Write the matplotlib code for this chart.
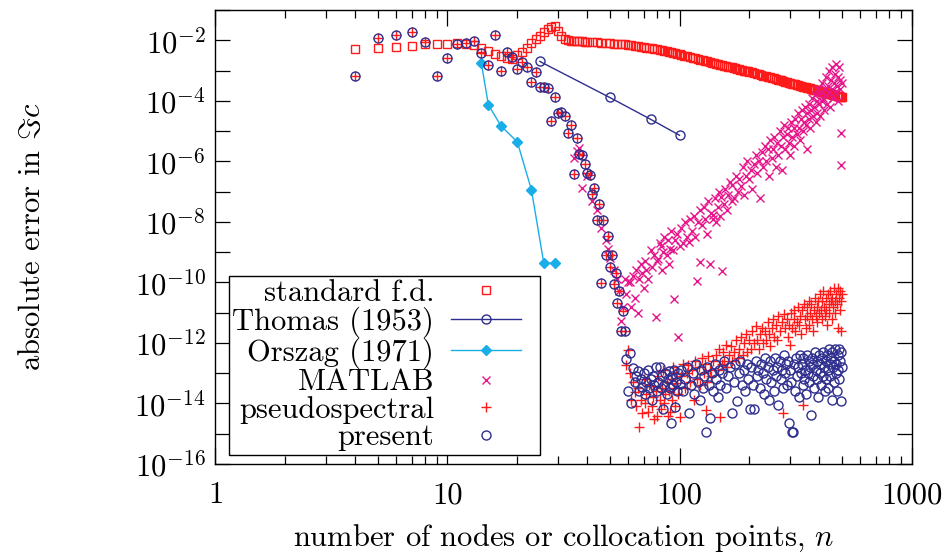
# -*- coding: utf-8 -*-
'''
absolute error in Im(c) against number of nodes / collocation points
'''

import numpy as np
import matplotlib
matplotlib.use('Agg')
import matplotlib.pyplot as plt
from matplotlib.lines import Line2D
from matplotlib.legend_handler import HandlerLine2D

# ----------- data (log10 of absolute error) -----------
fd_n = list(range(4, 41)) + list(range(42, 101, 2)) + list(range(102, 200, 3)) + list(range(200, 501, 5))
fd_log10 = [
    -2.28, -2.26, -2.21, -2.18, -2.14, -2.12, -2.11, -2.10, -2.12, -2.16,
    -2.26, -2.36, -2.44, -2.53, -2.58, -2.62, -2.50, -2.39, -2.24, -2.10,
    -1.97, -1.85, -1.74, -1.64, -1.57, -1.53, -1.69, -1.87, -1.95, -1.99,
    -2.01, -2.02, -2.03, -2.03, -2.04, -2.05, -2.05,
    # 42 .. 100 step 2
    -2.06, -2.07, -2.08, -2.09, -2.10, -2.11, -2.12, -2.13, -2.14, -2.16,
    -2.17, -2.18, -2.19, -2.21, -2.22, -2.24, -2.25, -2.27, -2.28, -2.30,
    -2.31, -2.33, -2.34, -2.36, -2.38, -2.39, -2.41, -2.43, -2.45, -2.47,
    # 102 .. 198 step 3
    -2.49, -2.51, -2.53, -2.56, -2.58, -2.60, -2.62, -2.64, -2.66, -2.68,
    -2.70, -2.72, -2.74, -2.75, -2.77, -2.79, -2.81, -2.82, -2.84, -2.85,
    -2.87, -2.88, -2.90, -2.91, -2.93, -2.94, -2.96, -2.97, -2.98, -3.00,
    -3.01, -3.02, -3.03,
    # 200 .. 500 step 5
    -3.04, -3.06, -3.09, -3.11, -3.13, -3.15, -3.17, -3.19, -3.21, -3.23,
    -3.24, -3.26, -3.28, -3.30, -3.32, -3.33, -3.35, -3.37, -3.38, -3.40,
    -3.41, -3.43, -3.44, -3.46, -3.47, -3.49, -3.50, -3.51, -3.53, -3.54,
    -3.55, -3.57, -3.58, -3.59, -3.60, -3.62, -3.63, -3.64, -3.65, -3.66,
    -3.68, -3.69, -3.70, -3.71, -3.72, -3.73, -3.74, -3.75, -3.76, -3.77,
    -3.78, -3.79, -3.80, -3.81, -3.82, -3.83, -3.84, -3.85, -3.86, -3.87,
    -3.88,
]

thomas_n = [25, 50, 75, 100]
thomas_log10 = [-2.70, -3.89, -4.61, -5.14]

orszag_n = [14, 15, 17, 20, 23, 26, 29]
orszag_log10 = [-2.76, -4.13, -4.83, -5.36, -6.94, -9.36, -9.36]

# present and pseudospectral coincide up to n = 58
low_n = list(range(4, 59))
low_log10 = [
    -3.17, -1.92, -1.84, -1.72, -2.06, -3.17, -2.59, -2.11, -2.08, -2.02,
    -2.42, -2.81, -1.84, -3.03, -2.39, -2.56, -2.94, -2.72, -2.89, -3.39,
    -3.06, -3.53, -3.53, -3.58, -4.67, -3.89, -4.39, -4.36, -4.50, -5.08,
    -4.81, -6.41, -5.24, -5.76, -5.80, -6.08, -6.39, -6.44, -7.09, -6.89,
    -7.94, -7.41, -10.02, -7.94, -9.11, -8.48, -9.50, -9.09, -10.06, -9.69,
    -10.69, -10.30, -11.61, -10.94, -11.61,
]

matlab_n = [
    35, 36, 37, 38, 40, 42, 44, 46, 48, 49, 50, 52, 54, 55, 56, 57, 58, 59, 60, 61,
    62, 63, 64, 65, 66, 67, 68, 69, 70, 71, 72, 73, 75, 76, 78, 79, 80, 81, 82, 83,
    84, 85, 86, 88, 89, 90, 91, 92, 94, 95, 96, 98, 99, 100, 102, 104, 106, 108, 110, 111,
    113, 115, 117, 119, 120, 122, 123, 125, 127, 129, 131, 133, 135, 137, 139, 140, 142, 144, 146, 148,
    150, 151, 153, 155, 157, 160, 162, 165, 168, 169, 172, 175, 178, 181, 184, 187, 190, 193, 196, 200,
    203, 206, 210, 213, 216, 220, 223, 226, 230, 233, 236, 240, 243, 246, 250, 253, 256, 260, 263, 266,
    270, 273, 276, 280, 283, 286, 290, 293, 296, 300, 303, 306, 310, 313, 316, 320, 323, 326, 330, 333,
    336, 340, 343, 346, 350, 353, 356, 360, 363, 366, 370, 373, 376, 380, 383, 386, 390, 393, 396, 400,
    403, 406, 410, 413, 416, 420, 423, 426, 430, 433, 436, 440, 443, 446, 450, 453, 456, 460, 463, 466,
    470, 473, 476, 480, 483, 486, 490, 493, 496, 498, 500,
]
matlab_log10 = [
    -5.90, -5.67, -5.56, -6.89, -6.50, -7.30, -7.60, -8.22, -8.60, -8.89, -9.20, -9.60, -9.90, -10.30, -11.27, -10.83, -9.89, -10.40, -10.00, -10.00,
    -10.83, -9.80, -10.50, -9.60, -11.00, -9.90, -9.40, -9.70, -10.20, -9.30, -9.60, -9.90, -8.94, -9.50, -9.10, -11.13, -9.30, -9.22, -8.70, -8.80,
    -9.60, -9.00, -8.50, -9.10, -8.60, -9.40, -8.90, -8.30, -8.94, -10.56, -8.60, -8.39, -11.81, -8.80, -8.20, -8.70, -8.00, -8.50, -8.67, -7.90,
    -8.30, -7.80, -8.50, -9.94, -8.00, -7.60, -9.33, -8.10, -7.50, -7.90, -8.40, -7.30, -9.39, -7.70, -7.90, -7.78, -7.20, -8.00, -7.50, -7.00,
    -7.80, -7.17, -9.64, -7.40, -6.90, -7.60, -7.10, -6.70, -7.30, -6.78, -7.22, -6.50, -7.00, -6.60, -6.80, -6.20, -7.10, -6.50, -6.00, -6.60,
    -6.30, -6.90, -6.10, -5.80, -6.40, -6.00, -7.20, -5.70, -6.20, -5.50, -6.00, -5.60, -6.50, -5.30, -5.90, -5.60, -5.20, -6.20, -5.40, -5.80,
    -5.00, -5.50, -6.30, -5.20, -4.80, -5.60, -5.10, -4.90, -5.40, -5.80, -4.70, -5.20, -4.90, -5.50, -4.60, -5.10, -4.40, -4.90, -5.30, -4.60,
    -4.30, -5.00, -4.70, -4.20, -4.80, -5.60, -4.40, -4.10, -4.60, -4.90, -4.30, -3.90, -4.50, -4.20, -3.80, -4.70, -4.00, -4.40, -3.60, -4.10,
    -4.50, -3.70, -4.00, -3.40, -3.90, -4.30, -3.60, -3.20, -3.80, -4.10, -3.50, -3.00, -3.70, -4.20, -3.30, -3.60, -2.90, -3.90, -3.40, -3.10,
    -3.70, -2.80, -3.50, -4.00, -3.20, -2.90, -3.60, -3.30, -5.06, -6.11, -3.40,
]

pseudo_n = low_n + [
    59, 60, 61, 62, 63, 64, 65, 66, 67, 68, 69, 70, 71, 72, 73, 74, 75, 76, 77, 78,
    79, 80, 81, 82, 83, 84, 85, 86, 87, 88, 89, 90, 91, 92, 93, 94, 95, 96, 97, 98,
    99, 100, 102, 104, 106, 108, 109, 111, 113, 115, 117, 119, 121, 123, 125, 127, 129, 130, 131, 133,
    135, 137, 140, 144, 146, 148, 150, 152, 154, 156, 158, 160, 163, 166, 169, 172, 175, 178, 181, 184,
    187, 190, 193, 196, 200, 203, 206, 210, 213, 216, 220, 223, 226, 230, 233, 236, 240, 243, 246, 250,
    253, 256, 260, 263, 266, 270, 276, 280, 283, 286, 290, 293, 296, 300, 303, 306, 310, 313, 316, 320,
    323, 326, 330, 333, 336, 340, 343, 346, 350, 353, 356, 360, 363, 366, 370, 373, 376, 380, 383, 386,
    390, 393, 396, 400, 403, 406, 410, 413, 416, 420, 423, 426, 430, 433, 436, 440, 443, 446, 450, 453,
    456, 460, 463, 466, 470, 473, 476, 480, 483, 486, 490, 493, 496, 498, 500,
]
pseudo_log10 = low_log10 + [
    -12.72, -12.22, -13.00, -13.90, -13.30, -13.61, -14.10, -13.50, -14.78, -13.89, -14.30, -13.20, -14.00, -13.70, -14.28, -13.40, -13.44, -14.10, -13.80, -14.50,
    -13.60, -14.43, -13.10, -13.89, -14.20, -13.50, -12.90, -14.00, -13.70, -13.30, -14.40, -13.60, -14.28, -13.20, -13.90, -12.80, -13.50, -14.10, -13.00, -13.33,
    -13.70, -14.44, -13.10, -12.70, -13.50, -13.00, -12.72, -13.30, -12.90, -13.89, -12.60, -13.20, -12.80, -13.40, -12.50, -13.00, -12.70, -14.22, -13.30, -12.44,
    -12.90, -13.10, -12.60, -12.40, -12.90, -12.20, -14.44, -12.70, -12.30, -12.60, -12.06, -12.80, -12.40, -12.10, -12.60, -12.30, -11.90, -12.50, -12.20, -11.80,
    -12.40, -12.00, -11.70, -12.30, -11.90, -12.20, -11.60, -12.00, -11.44, -11.90, -12.20, -11.70, -11.50, -12.00, -11.60, -11.90, -11.30, -11.70, -12.10, -11.50,
    -11.20, -11.80, -11.40, -11.90, -11.10, -11.60, -11.30, -14.33, -11.06, -11.50, -11.20, -11.80, -11.40, -12.06, -11.00, -11.50, -11.20, -10.90, -11.60, -11.30,
    -10.80, -11.40, -11.10, -11.70, -10.90, -14.06, -10.70, -11.20, -11.50, -10.80, -11.10, -10.60, -11.40, -11.00, -10.70, -11.20, -11.60, -10.90, -10.50, -11.10,
    -10.80, -11.30, -10.60, -11.00, -10.40, -10.90, -11.20, -10.60, -10.30, -10.80, -11.10, -10.50, -10.90, -11.40, -10.40, -10.70, -11.00, -10.30, -10.60, -11.20,
    -10.50, -10.80, -10.20, -10.60, -11.00, -10.40, -10.70, -11.50, -10.20, -10.50, -10.90, -10.30, -11.60, -10.60, -10.40,
]

present_n = low_n + [
    59, 60, 61, 62, 63, 64, 65, 66, 67, 68, 69, 70, 71, 72, 73, 74, 75, 76, 77, 78,
    79, 80, 81, 82, 83, 84, 85, 86, 87, 88, 89, 90, 91, 92, 93, 94, 95, 96, 97, 98,
    99, 100, 102, 104, 106, 108, 110, 112, 114, 116, 118, 120, 122, 124, 126, 128, 130, 132, 134, 136,
    138, 140, 142, 144, 146, 148, 150, 153, 156, 159, 162, 165, 168, 171, 174, 177, 180, 183, 186, 189,
    192, 195, 198, 201, 204, 207, 210, 213, 216, 219, 222, 225, 228, 231, 234, 237, 240, 243, 246, 249,
    252, 255, 258, 261, 264, 267, 270, 273, 276, 279, 282, 285, 288, 291, 294, 297, 300, 303, 306, 309,
    312, 315, 318, 321, 324, 327, 330, 333, 336, 339, 342, 345, 348, 351, 354, 357, 360, 363, 366, 369,
    372, 375, 378, 381, 384, 387, 390, 393, 396, 399, 402, 405, 408, 411, 414, 417, 420, 423, 426, 429,
    432, 435, 438, 441, 444, 447, 450, 453, 456, 459, 462, 465, 468, 471, 474, 477, 480, 483, 486, 489,
    492, 495, 498, 500,
]
present_log10 = low_log10 + [
    -12.53, -13.58, -12.33, -14.00, -12.83, -13.30, -13.10, -12.94, -13.60, -13.20, -13.45, -13.00, -13.70, -13.30, -12.90, -13.50, -13.20, -13.90, -13.10, -13.40,
    -12.80, -13.60, -13.30, -12.78, -13.50, -13.10, -14.20, -13.40, -13.00, -13.70, -13.20, -12.94, -13.50, -14.64, -13.10, -13.40, -12.90, -14.13, -13.30, -13.60,
    -13.00, -13.35, -12.90, -13.60, -13.20, -12.80, -14.33, -13.40, -13.00, -13.70, -12.70, -13.30, -13.90, -12.90, -13.50, -13.10, -14.94, -12.80, -13.40, -14.47,
    -13.00, -13.60, -12.70, -13.20, -13.80, -12.90, -13.40, -13.00, -12.60, -13.50, -13.10, -12.80, -14.33, -13.30, -12.70, -13.93, -13.00, -12.60, -13.40, -12.90,
    -13.60, -12.70, -13.20, -14.20, -12.80, -13.40, -14.19, -12.60, -13.10, -12.90, -13.50, -12.70, -13.00, -13.70, -12.50, -13.20, -12.80, -13.90, -12.60, -13.30,
    -12.90, -13.60, -12.50, -13.10, -12.80, -14.06, -12.60, -13.20, -12.90, -13.50, -12.40, -13.00, -12.70, -13.40, -12.60, -14.63, -12.90, -13.30, -14.95, -14.95,
    -12.70, -13.60, -12.50, -13.10, -12.80, -13.80, -12.40, -13.00, -12.70, -13.40, -12.50, -13.20, -12.90, -13.70, -12.40, -13.00, -12.60, -13.30, -12.80, -14.39,
    -12.50, -13.10, -12.70, -13.50, -12.30, -12.90, -13.20, -12.60, -13.80, -12.40, -13.00, -12.70, -13.40, -12.50, -13.10, -12.30, -12.80, -13.60, -12.60, -13.20,
    -12.40, -12.90, -13.50, -12.20, -12.70, -13.10, -12.50, -13.90, -12.30, -12.80, -13.30, -12.60, -12.20, -13.00, -12.70, -13.60, -12.40, -12.90, -12.20, -13.20,
    -12.60, -13.92, -12.30, -12.80,
]

legend_labels = ['standard f.d.', 'Thomas (1953)', 'Orszag (1971)', 'MATLAB', 'pseudospectral', 'present']
x_tick_values = [1, 10, 100, 1000]
y_tick_exponents = list(range(-16, 0))

# ----------- style -----------
plt.rcParams['font.family'] = ['cmr10', 'DejaVu Serif']
plt.rcParams['mathtext.fontset'] = 'cm'
plt.rcParams['axes.formatter.use_mathtext'] = True
plt.rcParams['font.size'] = 22

red = '#ff1a1a'
navy = '#2e2e8f'
sky = '#1aaee8'
pink = '#e6168c'


def pw(vals):
    return 10.0 ** np.array(vals)


class PadRightLine(HandlerLine2D):
    '''legend sample drawn a bit short of the handle box, leaving space on the right'''
    def create_artists(self, legend, orig_handle, xdescent, ydescent, width, height, fontsize, trans):
        return super().create_artists(legend, orig_handle, xdescent, ydescent,
                                      width - 0.5 * fontsize, height, fontsize, trans)


fig = plt.figure(figsize=(9.5, 5.54), dpi=100)
ax = fig.add_axes([0.2268, 0.1625, 0.7327, 0.8195])

ax.plot(fd_n, pw(fd_log10), ls='none', marker='s', ms=5.6, mfc='none', mec=red, mew=1.0, label=legend_labels[0])
ax.plot(thomas_n, pw(thomas_log10), ls='-', lw=1.0, color=navy, marker='o', ms=6.5, mfc='none', mec=navy, mew=1.0, label=legend_labels[1])
ax.plot(orszag_n, pw(orszag_log10), ls='-', lw=1.0, color=sky, marker='D', ms=5.2, mfc=sky, mec=sky, label=legend_labels[2])
ax.plot(matlab_n, pw(matlab_log10), ls='none', marker='x', ms=6.0, mec=pink, mew=1.0, label=legend_labels[3])
ax.plot(pseudo_n, pw(pseudo_log10), ls='none', marker='+', ms=7.0, mec=red, mew=1.0, label=legend_labels[4])
ax.plot(present_n, pw(present_log10), ls='none', marker='o', ms=6.5, mfc='none', mec=navy, mew=1.0, label=legend_labels[5])

ax.set_xscale('log')
ax.set_yscale('log')
ax.set_xlim(1, 1000)
ax.set_ylim(1e-16, 1e-1)

ax.set_xticks(x_tick_values)
ax.set_xticklabels([str(v) for v in x_tick_values])
ax.xaxis.set_minor_locator(matplotlib.ticker.LogLocator(base=10, subs=np.arange(2, 10), numticks=20))
ax.xaxis.set_minor_formatter(matplotlib.ticker.NullFormatter())

ax.set_yticks([10.0 ** k for k in y_tick_exponents])
ax.set_yticklabels([r'$10^{%d}$' % k if k % 2 == 0 else '' for k in y_tick_exponents])
ax.yaxis.set_minor_locator(matplotlib.ticker.NullLocator())

ax.tick_params(which='both', direction='in', top=True, right=True, width=0.9)
ax.tick_params(axis='x', which='major', length=11.5, pad=13)
ax.tick_params(axis='x', which='minor', length=5.5)
ax.tick_params(axis='y', which='major', length=11.0, pad=7)
for sp in ax.spines.values():
    sp.set_linewidth(1.0)

ax.set_xlabel(r'number of nodes or collocation points, $n$', labelpad=9.5)
ax.set_ylabel(r'absolute error in $\Im c$', labelpad=64)

leg = ax.legend(loc='lower left', bbox_to_anchor=(0.019, 0.02), borderaxespad=0,
                markerfirst=False, numpoints=1, handlelength=2.8, handletextpad=0.55,
                labelspacing=-0.01, borderpad=0.12, fancybox=False, framealpha=1,
                edgecolor='black', handler_map={Line2D: PadRightLine()})
leg.get_frame().set_linewidth(1.0)

fig.savefig('out.png', dpi=100)
